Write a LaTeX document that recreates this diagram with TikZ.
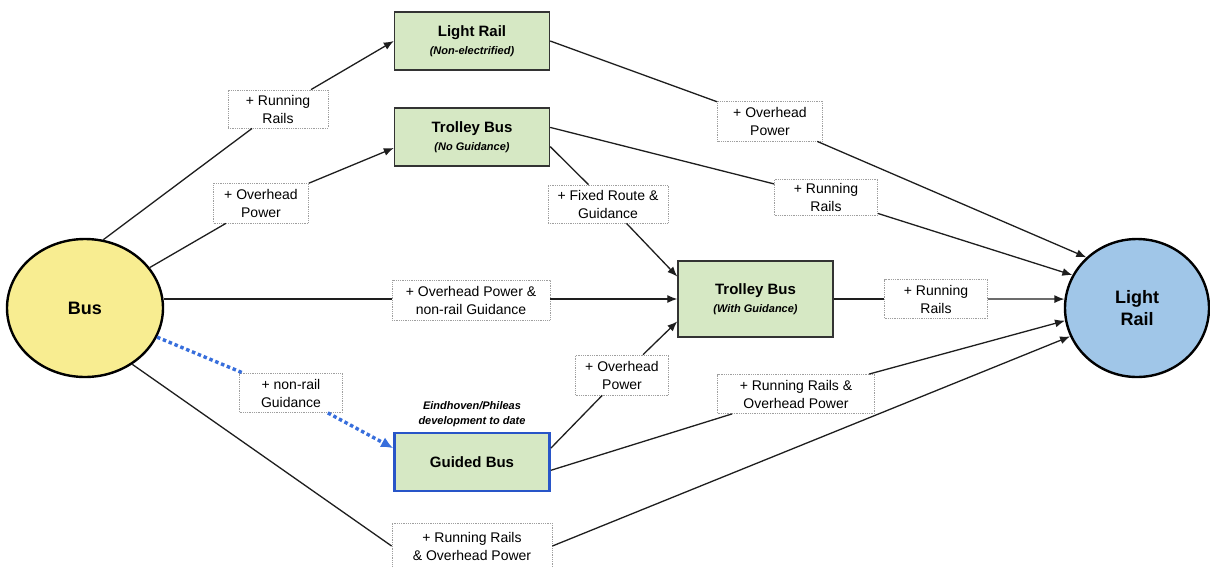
\documentclass[tikz,border=0pt]{standalone}
\usepackage{fontspec}
\setmainfont{Liberation Sans}
\usetikzlibrary{arrows.meta,shapes.geometric}
\definecolor{busY}{RGB}{248,237,145}
\definecolor{lrB}{RGB}{160,198,232}
\definecolor{boxG}{RGB}{214,232,196}
\definecolor{gbBlue}{RGB}{40,85,200}
\definecolor{dotBlue}{RGB}{55,110,220}
\definecolor{lineC}{RGB}{30,30,30}
\newcommand{\subf}{\fontsize{11}{13}\selectfont\bfseries\itshape}
\begin{document}
\begin{tikzpicture}[x=1pt,y=-1pt,
  conn/.style={draw=lineC, line width=1.3pt},
  arr/.style={conn, -{Latex[length=10pt,width=8pt]}},
  dotl/.style={draw=dotBlue, line width=3.4pt, dash pattern=on 3.5pt off 2.8pt},
  dotarr/.style={dotl, -{Latex[length=12pt,width=11pt]}},
  modebox/.style={draw=black!80, line width=1.4pt, fill=boxG, minimum width=155pt,
    minimum height=58pt, align=center, font=\fontsize{15}{18}\selectfont\bfseries, inner sep=0pt},
  lbl/.style={draw=gray!75, densely dotted, line width=0.8pt, fill=white, align=center,
    font=\fontsize{14}{18}\selectfont, minimum height=38pt, inner sep=2pt},
  oval/.style={ellipse, draw=black, line width=2.4pt, align=center, inner sep=0pt,
    font=\fontsize{18}{22}\selectfont\bfseries},
  note/.style={align=center, font=\fontsize{11}{15}\selectfont\bfseries\itshape, inner sep=0pt}
]
\clip (0,0) rectangle (1210,566);
\fill[white] (0,0) rectangle (1210,566);

% main nodes
\node[oval, fill=busY, minimum width=156pt, minimum height=138pt] (bus) at (85,308) {Bus};
\node[oval, fill=lrB, minimum width=144pt, minimum height=138pt] (lr) at (1137,308) {Light\\Rail};
\node[modebox] (lrne) at (472,41) {Light Rail\\{\subf (Non-electrified)}};
\node[modebox] (tng) at (472,137) {Trolley Bus\\{\subf (No Guidance)}};
\node[modebox, minimum height=76pt] (twg) at (755.5,299) {Trolley Bus\\{\subf (With Guidance)}};
\node[modebox, draw=gbBlue, line width=2.8pt, minimum height=58pt] (gb) at (472,462) {Guided Bus};
\node[note] (eind) at (472,414) {Eindhoven/Phileas\\development to date};

% labels
\node[lbl, minimum width=100pt] (l1) at (278,109) {+ Running\\Rails};
\node[lbl, minimum width=95pt, minimum height=40pt] (l2) at (261,203) {+ Overhead\\Power};
\node[lbl, minimum width=105pt, minimum height=40pt] (l3) at (770,121) {+ Overhead\\Power};
\node[lbl, minimum width=120pt] (l4) at (608,204) {+ Fixed Route \&\\Guidance};
\node[lbl, minimum width=103pt, minimum height=36pt] (l5) at (826,197) {+ Running\\Rails};
\node[lbl, minimum width=158pt, minimum height=40pt] (l6) at (471,300) {+ Overhead Power \&\\non-rail Guidance};
\node[lbl, minimum width=103pt, minimum height=39pt] (l7) at (936,299) {+ Running\\Rails};
\node[lbl, minimum width=103pt, minimum height=39pt] (l8) at (291,393) {+ non-rail\\Guidance};
\node[lbl, minimum width=93pt, minimum height=40pt] (l9) at (622,375) {+ Overhead\\Power};
\node[lbl, minimum width=157pt, minimum height=39pt] (l10) at (796,394) {+ Running Rails \&\\Overhead Power};
\node[lbl, minimum width=160pt, minimum height=46pt] (l11) at (472,546) {+ Running Rails\\\& Overhead Power};

% connectors
\draw[conn] (bus.75) -- (l1);
\draw[arr] (l1) -- (lrne.west);
\draw[conn] (bus.32) -- (l2);
\draw[arr] (l2) -- (tng.188);
\draw[conn] (bus.east |- twg.west) -- (l6.west |- twg.west);
\draw[arr] (l6.east |- twg.west) -- (twg.west);
\draw[dotl] (bus.-22) -- (l8);
\draw[dotarr] (l8) -- (gb.170);
\draw[conn] (bus.-50) -- (l11.west);
\draw[arr] (l11.east) -- (lr.203);

\draw[conn] (lrne.east) -- (l3);
\draw[arr] (l3) -- (lr.135);
\draw[conn] (tng.7) -- (l5);
\draw[arr] (l5) -- (lr.153);
\draw[conn] (tng.-7) -- (l4);
\draw[arr] (l4) -- (twg.164);
\draw[conn] (twg.east) -- (l7.west);
\draw[arr] (l7.east) -- (lr.173);
\draw[conn] (gb.10) -- (l9);
\draw[arr] (l9) -- (twg.196);
\draw[conn] (gb.-6) -- (l10);
\draw[arr] (l10) -- (lr.190);
\end{tikzpicture}
\end{document}
